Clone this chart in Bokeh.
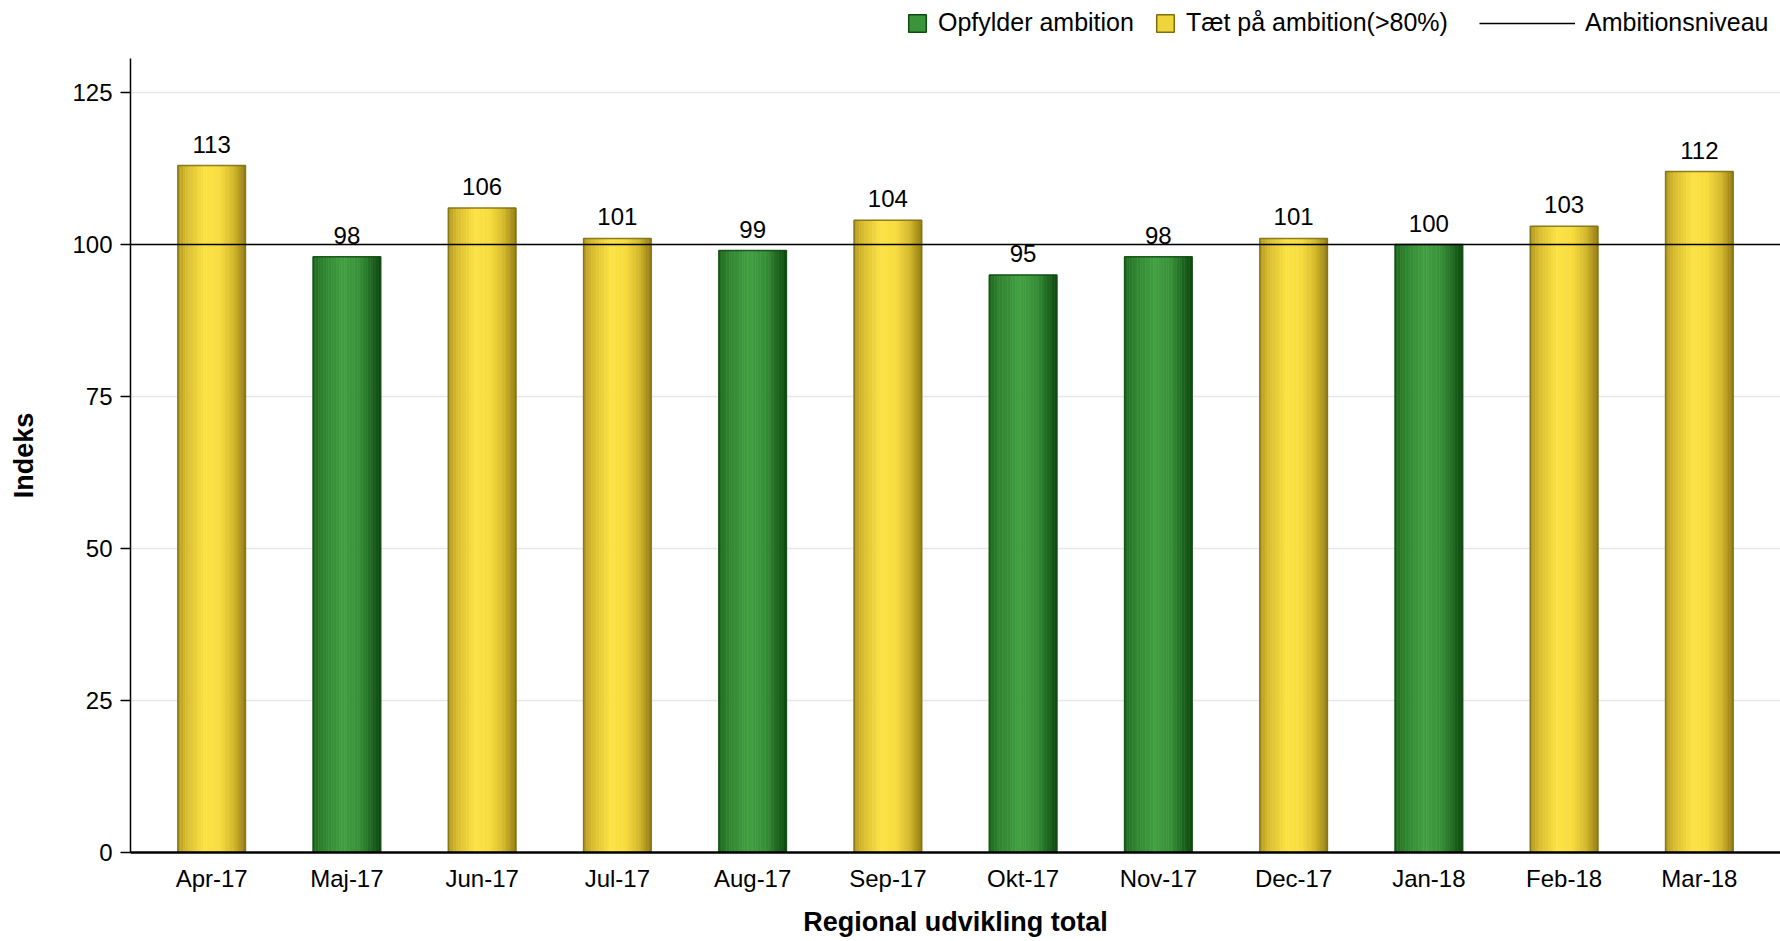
import numpy as np
from bokeh.plotting import figure
from bokeh.layouts import column
from bokeh.models import (ColumnDataSource, Range1d, FixedTicker, Span, Legend,
                          LegendItem)
from bokeh.core.properties import value
from bokeh.embed import file_html
from bokeh.resources import INLINE

# ---------------- data ----------------
months = ["Apr-17", "Maj-17", "Jun-17", "Jul-17", "Aug-17", "Sep-17",
          "Okt-17", "Nov-17", "Dec-17", "Jan-18", "Feb-18", "Mar-18"]
values = [113, 98, 106, 101, 99, 104, 95, 98, 101, 100, 103, 112]
status = ["near", "meets", "near", "near", "meets", "near",
          "meets", "meets", "near", "meets", "near", "near"]
status_labels = {"meets": "Opfylder ambition", "near": "Tæt på ambition(>80%)"}
ambition_label = "Ambitionsniveau"
ambition = 100
y_ticks = [0, 25, 50, 75, 100, 125]
x_title = "Regional udvikling total"
y_title = "Indeks"

# ---------------- style ----------------
FONT = "Liberation Sans"
BAR_W = 0.5
N_STRIPS = 26
gradient_stops = {
    "near": [(0.0, (178, 152, 30)), (0.12, (214, 186, 46)), (0.4, (253, 226, 68)),
             (0.62, (248, 220, 62)), (0.82, (214, 186, 44)), (1.0, (150, 126, 18))],
    "meets": [(0.0, (30, 105, 30)), (0.15, (48, 132, 48)), (0.45, (66, 160, 66)),
              (0.7, (55, 143, 55)), (0.88, (28, 100, 30)), (1.0, (12, 74, 15))],
}
outline_col = {"near": "#7d6c12", "meets": "#0f4a12"}
legend_fill = {"near": "#f0d43c", "meets": "#3a953a"}


def grad_color(kind, t):
    st = gradient_stops[kind]
    ts = [s[0] for s in st]
    rgb = [int(round(np.interp(t, ts, [s[1][c] for s in st]))) for c in range(3)]
    return "#%02x%02x%02x" % tuple(rgb)


idx = list(range(len(months)))

sx, stop, scol = [], [], []
for i, (v, s) in enumerate(zip(values, status)):
    for k in range(N_STRIPS):
        t = (k + 0.5) / N_STRIPS
        sx.append(i - BAR_W / 2 + t * BAR_W)
        stop.append(v)
        scol.append(grad_color(s, t))
strip_src = ColumnDataSource(dict(x=sx, top=stop, color=scol))

bar_src = ColumnDataSource(dict(x=idx, top=values,
                                line=[outline_col[s] for s in status],
                                lbl=[str(v) for v in values]))

# ---------------- main chart ----------------
p = figure(width=1780, height=883, output_backend="svg", toolbar_location=None,
           x_range=Range1d(-0.6, len(months) - 1 + 0.6),
           y_range=Range1d(0, 130.6),
           min_border_left=130, min_border_top=0, min_border_right=0,
           min_border_bottom=89)
p.outline_line_color = None
p.background_fill_color = "white"
p.border_fill_color = "white"

p.xgrid.visible = False
p.ygrid.ticker = FixedTicker(ticks=y_ticks)
p.ygrid.grid_line_color = "#e8e8e8"
p.ygrid.grid_line_width = 1.5

p.vbar(x="x", top="top", bottom=0, width=BAR_W / N_STRIPS, source=strip_src,
       fill_color="color", line_color="color", line_width=0.6)
p.vbar(x="x", top="top", bottom=0, width=BAR_W, source=bar_src,
       fill_color=None, line_color="line", line_width=1.5, line_alpha=0.85)

p.text(x="x", y="top", text="lbl", source=bar_src, text_align="center",
       text_baseline="bottom", y_offset=-13, text_font=value(FONT),
       text_font_size="24px", text_color="black")

p.add_layout(Span(location=ambition, dimension="width", line_color="black",
                  line_width=1.5))

p.xaxis.ticker = FixedTicker(ticks=idx)
p.xaxis.major_label_overrides = {i: m for i, m in zip(idx, months)}
p.xaxis.major_tick_line_color = None
p.xaxis.minor_tick_line_color = None
p.xaxis.axis_line_color = "black"
p.xaxis.axis_line_width = 2.5
p.xaxis.major_label_standoff = 6
p.xaxis.axis_label = x_title
p.xaxis.axis_label_standoff = 12

p.yaxis.ticker = FixedTicker(ticks=y_ticks)
p.yaxis.major_tick_out = 10
p.yaxis.major_tick_in = 0
p.yaxis.major_tick_line_width = 1.5
p.yaxis.minor_tick_line_color = None
p.yaxis.axis_line_color = "black"
p.yaxis.axis_line_width = 1.5
p.yaxis.major_label_standoff = 8
p.yaxis.axis_label = y_title
p.yaxis.axis_label_standoff = 30

for ax in (p.xaxis, p.yaxis):
    ax.major_label_text_font = FONT
    ax.major_label_text_font_size = "24px"
    ax.major_label_text_color = "black"
    ax.axis_label_text_font = FONT
    ax.axis_label_text_font_size = "27px"
    ax.axis_label_text_font_style = "bold"
    ax.axis_label_text_color = "black"

# ---------------- legend strip ----------------
lg_fig = figure(width=1780, height=58, output_backend="svg", toolbar_location=None,
                x_range=Range1d(0, 1), y_range=Range1d(0, 1),
                x_axis_location=None, y_axis_location=None,
                min_border=0)
lg_fig.outline_line_color = None
lg_fig.grid.visible = False
lg_fig.background_fill_color = "white"
lg_fig.border_fill_color = "white"

nan = float("nan")
leg_meets = lg_fig.vbar(x=[nan], top=[nan], width=0.5, fill_color=legend_fill["meets"],
                        line_color=outline_col["meets"], line_width=1.5)
leg_near = lg_fig.vbar(x=[nan], top=[nan], width=0.5, fill_color=legend_fill["near"],
                       line_color=outline_col["near"], line_width=1.5)
leg_line = lg_fig.line(x=[nan, nan], y=[nan, nan], line_color="black", line_width=1.5)


def style_legend(lg):
    lg.orientation = "horizontal"
    lg.border_line_color = None
    lg.background_fill_alpha = 0
    lg.padding = 0
    lg.margin = 0
    lg.label_text_font = FONT
    lg.label_text_font_size = "25px"
    lg.label_text_color = "black"
    lg.label_height = 24
    lg.click_policy = "none"


leg1 = Legend(items=[LegendItem(label=status_labels["meets"], renderers=[leg_meets]),
                     LegendItem(label=status_labels["near"], renderers=[leg_near])],
              location=(776, 21))
style_legend(leg1)
leg1.glyph_width = 22
leg1.glyph_height = 22
leg1.label_standoff = 10
leg1.spacing = 20
lg_fig.add_layout(leg1)

leg2 = Legend(items=[LegendItem(label=ambition_label, renderers=[leg_line])],
              location=(1349, 21))
style_legend(leg2)
leg2.glyph_width = 96
leg2.glyph_height = 22
leg2.label_standoff = 10
lg_fig.add_layout(leg2)

layout = column(lg_fig, p, spacing=0)
open("out.html", "w").write(file_html(layout, INLINE))
